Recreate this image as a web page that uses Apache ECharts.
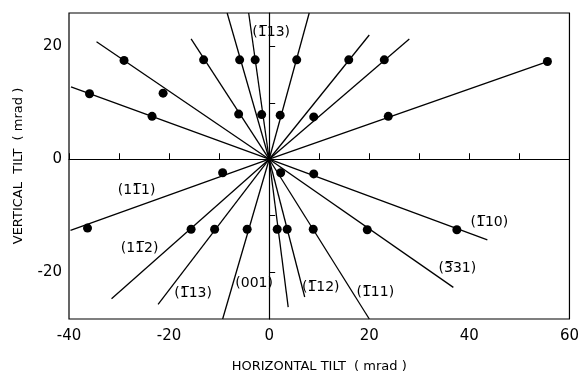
<!DOCTYPE html>
<html>
<head>
<meta charset="utf-8">
<script src="https://cdn.jsdelivr.net/npm/echarts@6/dist/echarts.min.js"></script>
<style>
  html, body { margin: 0; padding: 0; background: #fff; }
  #chart { width: 582px; height: 378px; }
</style>
</head>
<body>
<div id="chart"></div>
<script>
// ray end points (every ray starts at the origin)
var rayEndX = [-34.5, -39.6, -15.6, -8.4, -4.1, 8.0, 20.0, 28.0, 55.6,
               -39.7, -31.5, -22.2, -9.3, 3.8, 7.1, 20.0, 43.6, 36.8];
var rayEndY = [20.8, 12.8, 21.3, 25.9, 25.9, 25.9, 22.0, 21.3, 17.3,
               -12.6, -24.7, -25.7, -28.3, -26.2, -24.4, -28.3, -14.3, -22.7];

// measured points
var dotX = [-29.0, -21.2, -35.9, -23.4, -13.1, -6.1, -5.9, -2.8, -1.5, 5.5, 2.2,
            15.9, 23.0, 8.9, 55.6, 23.8, -36.3, -9.3, -15.6, -10.9, -4.4, 1.6,
            3.6, 8.8, 37.5, 8.9, 19.6, 2.3];
var dotY = [17.5, 11.7, 11.6, 7.6, 17.6, 8.0, 17.6, 17.6, 7.9, 17.6, 7.8,
            17.6, 17.6, 7.5, 17.3, 7.6, -12.2, -2.4, -12.4, -12.4, -12.4, -12.4,
            -12.4, -12.4, -12.5, -2.6, -12.5, -2.4];

// plane labels (U+0305 = overbar)
var planeNames = ["(1\u030513)", "(11\u03051)", "(11\u03052)", "(1\u030513)", "(001)",
                  "(1\u030512)", "(1\u030511)", "(3\u030531)", "(1\u030510)"];
var planeX = [0.4, -26.5, -25.9, -15.2, -3.0, 10.3, 21.2, 37.6, 44.0];
var planeY = [22.4, -5.5, -15.8, -23.8, -21.9, -22.7, -23.6, -19.4, -11.1];

var xTicks = [-40, -20, 0, 20, 40, 60];
var yTicks = [-20, -10, 0, 10, 20];
var yLabels = [-20, 0, 20];

var FONT = "DejaVu Sans";

var series = [];
rayEndX.forEach(function (x, i) {
  series.push({
    type: "line",
    data: [[0, 0], [x, rayEndY[i]]],
    symbol: "none",
    silent: true,
    lineStyle: { color: "#000", width: 1.3 },
    clip: true
  });
});
series.push({
  type: "scatter",
  data: dotX.map(function (x, i) { return [x, dotY[i]]; }),
  symbol: "circle",
  symbolSize: 9,
  itemStyle: { color: "#000", opacity: 1 },
  z: 5
});
series.push({
  type: "scatter",
  data: planeX.map(function (x, i) { return { value: [x, planeY[i]], name: planeNames[i] }; }),
  symbolSize: 0,
  itemStyle: { color: "#000", opacity: 1 },
  label: {
    show: true,
    position: "inside",
    formatter: function (p) { return p.name; },
    color: "#000",
    textBorderWidth: 0,
    fontFamily: FONT,
    fontSize: 14
  },
  z: 6
});

var chart = echarts.init(document.getElementById("chart"), null, { renderer: "canvas" });
chart.setOption({
  animation: false,
  backgroundColor: "#fff",
  grid: {
    left: 69, right: 8, top: 13, bottom: 54,
    show: true, borderColor: "#000", borderWidth: 1.2
  },
  xAxis: {
    type: "value",
    min: -40, max: 60, interval: 10,
    name: "HORIZONTAL TILT  ( mrad )",
    nameLocation: "middle",
    nameGap: 41,
    nameTextStyle: { fontFamily: FONT, fontSize: 13, color: "#000" },
    axisLine: { lineStyle: { color: "#000", width: 1.2 } },
    axisTick: { inside: true, length: 6, lineStyle: { color: "#000" } },
    splitLine: { show: false },
    axisLabel: {
      fontFamily: FONT, fontSize: 15, color: "#000", margin: 10,
      formatter: function (v) { return xTicks.indexOf(v) >= 0 ? String(v) : ""; }
    }
  },
  yAxis: {
    type: "value",
    min: -28.3, max: 25.9,
    name: "VERTICAL  TILT  ( mrad )",
    nameLocation: "middle",
    nameGap: 44,
    nameRotate: 90,
    nameTextStyle: { fontFamily: FONT, fontSize: 13, color: "#000" },
    axisLine: { lineStyle: { color: "#000", width: 1.2 } },
    axisTick: { inside: true, length: 6, customValues: yTicks, lineStyle: { color: "#000" } },
    splitLine: { show: false },
    axisLabel: {
      fontFamily: FONT, fontSize: 15, color: "#000", margin: 7,
      customValues: yLabels
    }
  },
  series: series
});
</script>
</body>
</html>
